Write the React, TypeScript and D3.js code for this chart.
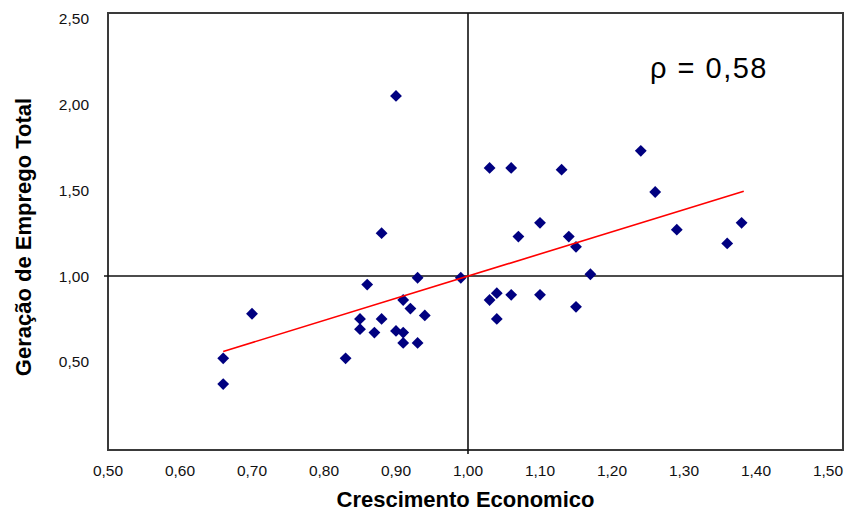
import React from "react";
import * as d3 from "d3";

const growthX: number[] = [
  0.66, 0.66, 0.7, 0.83, 0.85, 0.85, 0.86, 0.87, 0.88, 0.88, 0.9, 0.9, 0.91, 0.91, 0.91, 0.92, 0.93, 0.93, 0.94, 0.99,
  1.03, 1.03, 1.04, 1.04, 1.06, 1.06, 1.07, 1.1, 1.1, 1.13, 1.14, 1.15, 1.15, 1.17, 1.24, 1.26, 1.29, 1.36, 1.38,
];
const employY: number[] = [
  0.52, 0.37, 0.78, 0.52, 0.75, 0.69, 0.95, 0.67, 1.25, 0.75, 2.05, 0.68, 0.86, 0.67, 0.61, 0.81, 0.99, 0.61, 0.77, 0.99,
  1.63, 0.86, 0.9, 0.75, 1.63, 0.89, 1.23, 1.31, 0.89, 1.62, 1.23, 1.17, 0.82, 1.01, 1.73, 1.49, 1.27, 1.19, 1.31,
];
const trendX: number[] = [0.66, 1.383];
const trendY: number[] = [0.56, 1.494];
const xTicks: number[] = [0.5, 0.6, 0.7, 0.8, 0.9, 1.0, 1.1, 1.2, 1.3, 1.4, 1.5];
const yTicks: number[] = [0.5, 1.0, 1.5, 2.0, 2.5];
const crossX = 1.0;
const crossY = 1.0;
const rhoLabel = "ρ = 0,58";
const xTitle = "Crescimento Economico";
const yTitle = "Geração de Emprego Total";

const W = 847;
const H = 511;
const frame = { left: 108, right: 843, top: 13, bottom: 450 };

const locale = d3.formatLocale({ decimal: ",", thousands: ".", grouping: [3], currency: ["", ""] });
const fmt = locale.format(".2f");

export default function App() {
  const x = d3.scaleLinear().domain([0.5, 1.5]).range([108, 828]);
  const y = d3.scaleLinear().domain([0, 2.5]).range([447.5, 18.75]);
  const diamond = d3.symbol().type(d3.symbolSquare).size(70)();
  const line = d3
    .line<number>()
    .x((_, i) => x(trendX[i]))
    .y((d) => y(d));
  const font = "'Liberation Sans', Arial, sans-serif";

  return (
    <svg
      width={W}
      height={H}
      style={{ position: "absolute", left: 0, top: 0, background: "#fff" }}
      fontFamily={font}
    >
      <rect x={0} y={0} width={W} height={H} fill="#fff" />
      {/* frame */}
      <rect
        x={frame.left}
        y={frame.top}
        width={frame.right - frame.left}
        height={frame.bottom - frame.top}
        fill="none"
        stroke="#3a3a3a"
        strokeWidth={2}
      />
      {/* crossing lines at 1.00 */}
      <line x1={x(crossX)} x2={x(crossX)} y1={frame.top} y2={frame.bottom + 4} stroke="#111" strokeWidth={1.6} />
      <line x1={frame.left - 4} x2={frame.right} y1={y(crossY)} y2={y(crossY)} stroke="#111" strokeWidth={1.6} />

      {/* x tick labels */}
      {xTicks.map((t) => (
        <text key={"x" + t} x={x(t)} y={476} fontSize={15.5} textAnchor="middle" fill="#111">
          {fmt(t)}
        </text>
      ))}
      {/* y tick labels */}
      {yTicks.map((t) => (
        <text key={"y" + t} x={89} y={y(t) + 5.5} fontSize={15.5} textAnchor="end" fill="#111">
          {fmt(t)}
        </text>
      ))}

      {/* points */}
      {growthX.map((gx, i) => (
        <path
          key={"p" + i}
          d={diamond || ""}
          transform={`translate(${x(gx)},${y(employY[i])}) rotate(45)`}
          fill="#000080"
        />
      ))}

      {/* trend line */}
      <path d={line(trendY) || ""} fill="none" stroke="#ff0000" strokeWidth={1.6} />

      {/* rho label */}
      <text x={650} y={78} fontSize={29} letterSpacing={1.5} fill="#000">
        {rhoLabel}
      </text>

      {/* axis titles */}
      <text x={465.5} y={507} fontSize={22} fontWeight="bold" textAnchor="middle" fill="#000">
        {xTitle}
      </text>
      <text
        transform={`translate(31,237) rotate(-90)`}
        fontSize={22}
        fontWeight="bold"
        textAnchor="middle"
        fill="#000"
      >
        {yTitle}
      </text>
    </svg>
  );
}
